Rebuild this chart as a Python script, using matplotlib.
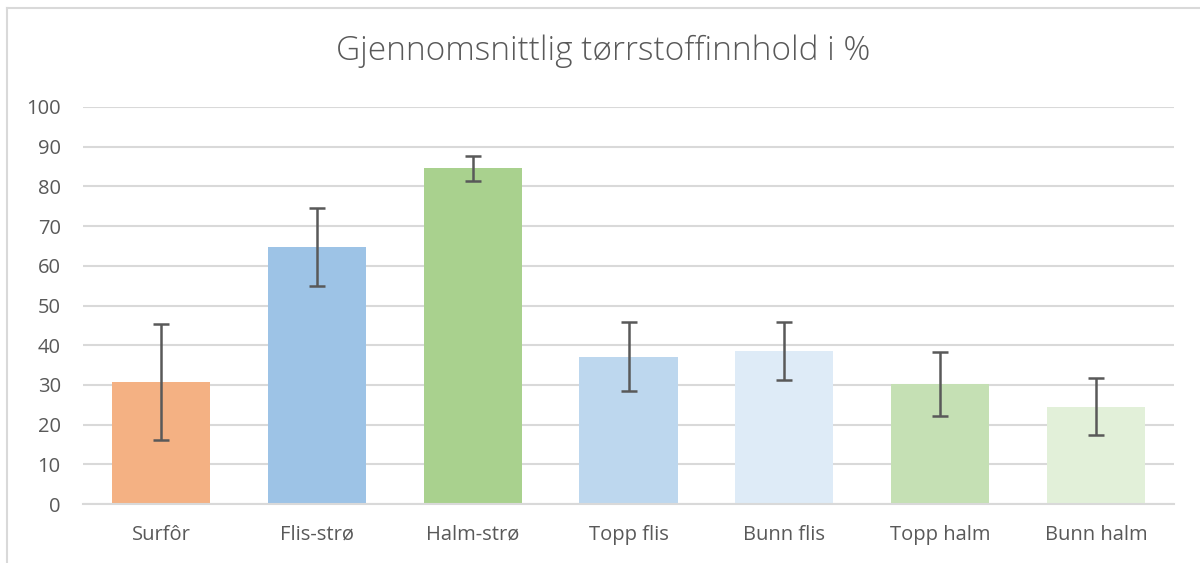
import matplotlib.pyplot as plt
from matplotlib.lines import Line2D

# data
kategorier = ["Surfôr", "Flis-strø", "Halm-strø", "Topp flis", "Bunn flis", "Topp halm", "Bunn halm"]
verdier = [30.7, 64.7, 84.6, 37.1, 38.5, 30.2, 24.5]
feil = [14.7, 9.9, 3.15, 8.65, 7.35, 8.1, 7.15]
farger = ["#F4B183", "#9DC3E6", "#A9D18E", "#BDD7EE", "#DEEBF7", "#C5E0B4", "#E2F0D9"]
y_ticks = [0, 10, 20, 30, 40, 50, 60, 70, 80, 90, 100]

plt.rcParams['font.family'] = ['Open Sans', 'DejaVu Sans']

fig = plt.figure(figsize=(12, 5.63), dpi=100)
ax = fig.add_axes([83 / 1200, 1 - 504 / 563, (1174 - 83) / 1200, (504 - 107) / 563])

x = range(len(kategorier))
ax.bar(x, verdier, width=0.63, color=farger, zorder=2)
ax.errorbar(x, verdier, yerr=feil, fmt='none', ecolor='#595959', elinewidth=1.8,
            capsize=6, capthick=1.8, zorder=3)

ax.set_xlim(-0.5, len(kategorier) - 0.5)
ax.set_ylim(0, 100)
ax.set_yticks(y_ticks)
ax.set_xticks(list(x))
ax.set_xticklabels(kategorier)
ax.tick_params(axis='both', length=0, labelsize=14.5, colors='#595959')
ax.tick_params(axis='x', pad=15)
ax.tick_params(axis='y', pad=16)
ax.grid(axis='y', color='#D9D9D9', linewidth=1.5, zorder=0)
for s in ['top', 'right', 'left']:
    ax.spines[s].set_visible(False)
ax.spines['bottom'].set_color('#D9D9D9')
ax.spines['bottom'].set_linewidth(1.5)

fig.text(0.503, 1 - 51 / 563, "Gjennomsnittlig tørrstoffinnhold i %", ha='center', va='center',
         fontsize=24, color='#595959', fontweight='light')

# chart frame (only left and top visible in the crop)
fig.add_artist(Line2D([7 / 1200, 7 / 1200], [0, 1 - 8 / 563], color='#D9D9D9', linewidth=1.5))
fig.add_artist(Line2D([7 / 1200, 1], [1 - 8 / 563, 1 - 8 / 563], color='#D9D9D9', linewidth=1.5))

fig.savefig("out.png", dpi=100, facecolor='white')
